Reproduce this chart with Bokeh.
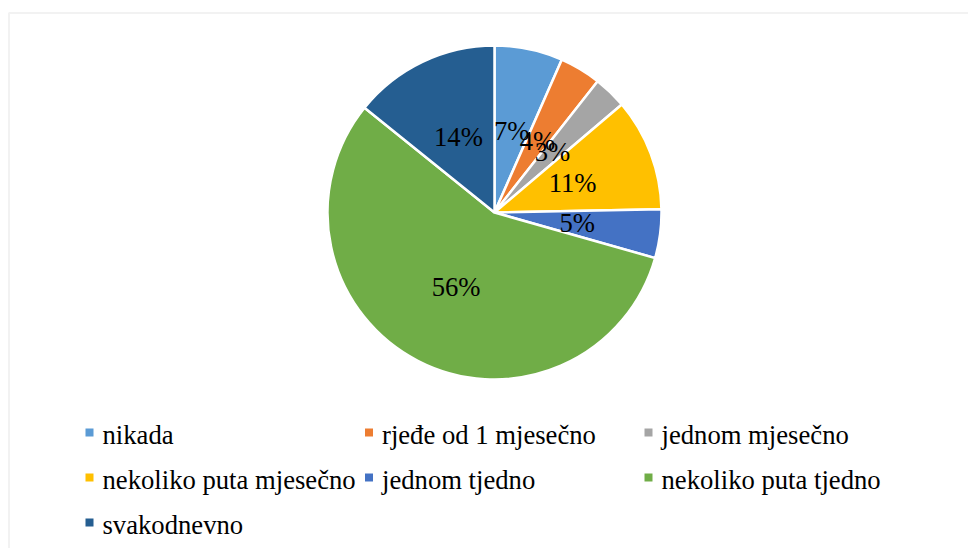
import math
from bokeh.plotting import figure
from bokeh.models import ColumnDataSource, Range1d, BoxAnnotation
from bokeh.core.properties import value
from bokeh.embed import file_html
from bokeh.resources import INLINE

# ---- data ----
categories = ["nikada", "rjeđe od 1 mjesečno", "jednom mjesečno",
              "nekoliko puta mjesečno", "jednom tjedno", "nekoliko puta tjedno",
              "svakodnevno"]
shares = [6.6, 4.0, 3.2, 10.9, 4.7, 56.4, 14.2]
colors = ["#5B9BD5", "#ED7D31", "#A5A5A5", "#FFC000", "#4472C4", "#70AD47", "#255E91"]

# ---- layout / style ----
W, H = 968, 548
CX, CY = 494, H - 212
R = 167
FONT = "Liberation Serif"
FS = "26.67px"

p = figure(width=W, height=H, x_range=Range1d(0, W), y_range=Range1d(0, H),
           x_axis_type=None, y_axis_type=None, output_backend="svg",
           toolbar_location=None, min_border=0)
p.grid.visible = False
p.outline_line_color = None
p.background_fill_color = "white"
p.border_fill_color = "white"

# chart frame (its right and bottom edges lie outside the view)
p.add_layout(BoxAnnotation(left=8.5, top=H - 12.5, right=W + 20, bottom=-20,
                           fill_color=None, fill_alpha=0, line_color="#D4D4D4",
                           line_width=2, level="underlay"))

total = sum(shares)
starts, ends, lx, ly, labels = [], [], [], [], []
cum = 0.0
for v in shares:
    a0 = cum / total
    cum += v
    a1 = cum / total
    starts.append(math.pi / 2 - 2 * math.pi * a1)
    ends.append(math.pi / 2 - 2 * math.pi * a0)
    mid = math.pi / 2 - 2 * math.pi * (a0 + a1) / 2
    lx.append(CX + 0.5 * R * math.cos(mid))
    ly.append(CY + 0.5 * R * math.sin(mid))
    labels.append(f"{round(v / total * 100)}%")

src = ColumnDataSource(dict(start=starts, end=ends, color=colors, lx=lx, ly=ly,
                            label=labels, cat=categories))
p.wedge(x=CX, y=CY, radius=R, radius_units="screen", start_angle="start",
        end_angle="end", fill_color="color", line_color="white", line_width=2.5,
        source=src)
p.text(x="lx", y="ly", text="label", source=src, text_font=value(FONT),
       text_font_size=FS, text_align="center", text_baseline="alphabetic",
       y_offset=0, text_color="black")

# ---- legend (3 columns) ----
mx, my, tx = [], [], []
for i in range(len(categories)):
    col, row = i % 3, i // 3
    x0 = 89 + 279.5 * col
    y0 = H - (432 + 45 * row)
    mx.append(x0)
    my.append(y0)
    tx.append(x0 + 13)
lsrc = ColumnDataSource(dict(mx=mx, my=my, tx=tx, cat=categories, color=colors))
p.scatter(x="mx", y="my", marker="square", size=8, fill_color="color",
          line_color=None, source=lsrc)
p.text(x="tx", y="my", text="cat", source=lsrc, text_font=value(FONT),
       text_font_size=FS, text_align="left", text_baseline="alphabetic",
       y_offset=2, text_color="black")

open("out.html", "w").write(file_html(p, INLINE))
